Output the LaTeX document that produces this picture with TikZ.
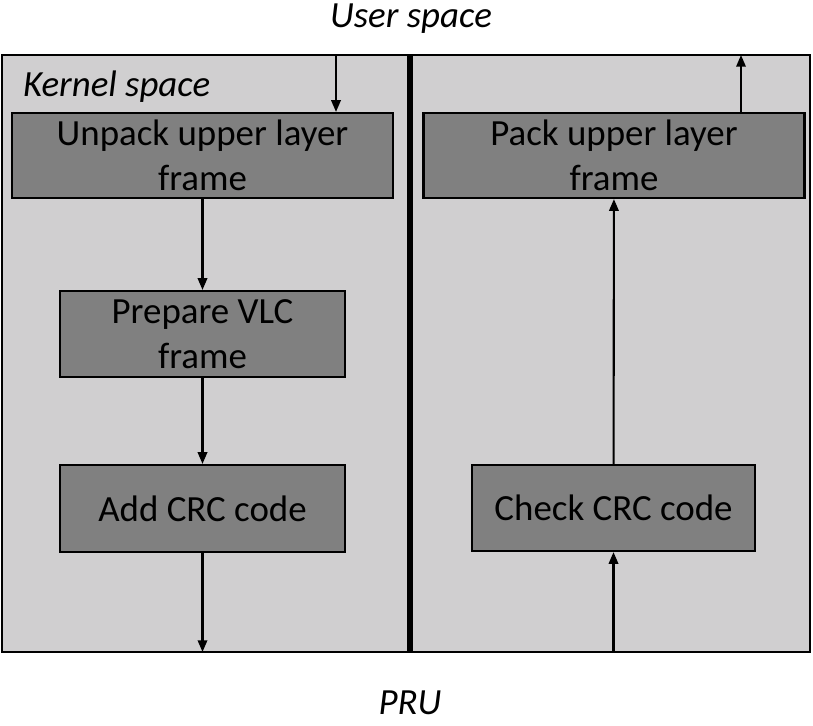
\documentclass[tikz,border=0pt]{standalone}
\usepackage{fontspec}
\setmainfont{Carlito}
\usetikzlibrary{arrows.meta}
\definecolor{panelgray}{RGB}{208,207,208}
\definecolor{boxgray}{RGB}{128,128,128}

\begin{document}
\begin{tikzpicture}[x=0.03cm, y=-0.03cm, line width=1.8pt,
    >={Triangle[length=10pt,width=8pt]},
    main/.style = {draw, fill=boxgray, align=center, inner sep=0pt,
                   font=\fontsize{31.5}{38.4}\selectfont},
    label/.style = {inner sep=0pt, anchor=base, font=\fontsize{31.5}{38.4}\selectfont\itshape}]
		\useasboundingbox (0,0) rectangle (813,725);
		\draw[fill=panelgray, line width=1.3pt] (2,55) rectangle (810,652);
		\draw[line width=5pt] (410,55) -- (410,652);
		
		\node[label] (user) at (411,27) {User space};
		\node[label, anchor=base west] (kernel) at (22,96) {Kernel space};
		\node[label] (pru) at (410,714) {PRU};
		
		\node[main, minimum width=11.43cm, minimum height=2.55cm] (1) at (202.5,155.5) {Unpack upper layer\\frame};
		\node[main, minimum width=8.55cm, minimum height=2.58cm] (2) at (202.5,334) {Prepare VLC\\frame};
		\node[main, minimum width=8.55cm, minimum height=2.61cm] (3) at (202.5,508.5) {Add CRC code};
		\node[main, minimum width=11.43cm, minimum height=2.55cm] (4) at (614,155.5) {Pack upper layer\\frame};
		\node[main, minimum width=8.49cm, minimum height=2.58cm] (5) at (613.5,508) {Check CRC code};
		
		\coordinate (in) at (336,55);
		\coordinate (out) at (741,55);
		\coordinate (tx) at (202.5,652);
		\coordinate (rx) at (613.5,652);
		
		\draw[->] (in) -- (in |- 1.north);
		\draw[->] (1) -- (2);
		\draw[->] (2) -- (3);
		\draw[->] (3) -- (tx);
		\draw[->] (rx) -- (5);
		\draw[->] (5) -- (4);
		\draw[->] (out |- 4.north) -- (out);
	\end{tikzpicture}
\end{document}
